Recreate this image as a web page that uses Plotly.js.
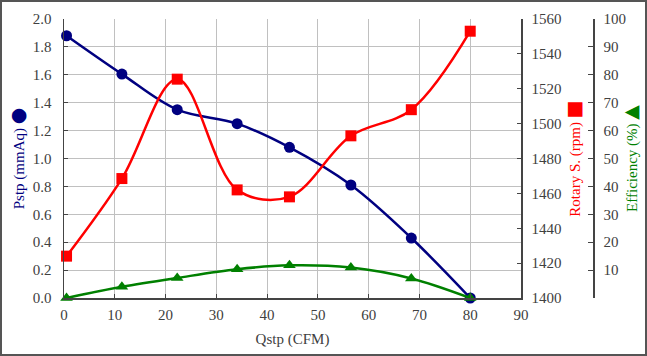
<!DOCTYPE html>
<html>
<head>
<meta charset="utf-8">
<script src="https://cdn.plot.ly/plotly-3.0.1.min.js"></script>
<style>
html,body{margin:0;padding:0;background:#fff;}
#wrap{position:relative;width:647px;height:356px;}
#chart{position:absolute;left:0;top:0;width:647px;height:356px;}
#frame{position:absolute;left:0;top:0;width:647px;height:356px;box-sizing:border-box;border:2px solid #555;pointer-events:none;}
</style>
</head>
<body>
<div id="wrap"><div id="chart"></div><div id="frame"></div></div>
<script>
// Data
const qstp = [0.5, 11.4, 22.3, 34.1, 44.4, 56.5, 68.4, 80.0];
const pstp = [1.88, 1.605, 1.35, 1.25, 1.08, 0.81, 0.43, 0.0];
const rotary = [1424, 1468.5, 1525.5, 1462, 1458, 1493, 1508, 1553];
const efficiency = [0, 4.0, 7.2, 10.3, 11.7, 10.9, 7.0, 0];

const effTickVals = [0, 10, 20, 30, 40, 50, 60, 70, 80, 90, 100];
const effTickText = ['', '10', '20', '30', '40', '50', '60', '70', '80', '90', '100'];

const FONT = 'Liberation Serif, Times New Roman, serif';
const SYM = 'font-family:DejaVu Sans;font-size:19px';
const TICKC = '#404040';
const AXC = '#444';

const traces = [
  {x: qstp, y: pstp, type: 'scatter', mode: 'lines+markers', name: 'Pstp',
   line: {color: '#000080', width: 2.5, shape: 'spline', smoothing: 1},
   marker: {symbol: 'circle', size: 11, color: '#000080'}, yaxis: 'y', cliponaxis: false},
  {x: qstp, y: rotary, type: 'scatter', mode: 'lines+markers', name: 'Rotary S.',
   line: {color: '#ff0000', width: 2.5, shape: 'spline', smoothing: 1},
   marker: {symbol: 'square', size: 11, color: '#ff0000'}, yaxis: 'y2', cliponaxis: false},
  {x: qstp, y: efficiency, type: 'scatter', mode: 'lines+markers', name: 'Efficiency',
   line: {color: '#008000', width: 2.5, shape: 'spline', smoothing: 1},
   marker: {symbol: 'triangle-up', size: 11, color: '#008000'}, yaxis: 'y3', cliponaxis: false}
];

const plotW = 647 - 64 - 40;
const layout = {
  width: 647, height: 356,
  margin: {l: 64, r: 40, t: 19, b: 58, pad: 0},
  paper_bgcolor: '#fff', plot_bgcolor: '#fff',
  showlegend: false,
  font: {family: FONT, size: 15, color: TICKC},
  xaxis: {
    domain: [0, 457 / plotW],
    range: [0, 90], dtick: 10, tick0: 0,
    showgrid: true, gridcolor: '#c0c0c0', gridwidth: 1,
    showline: true, linecolor: AXC, linewidth: 1.5,
    ticks: 'inside', ticklen: 4, tickcolor: AXC,
    zeroline: false, ticklabelstandoff: 2,
    tickfont: {family: FONT, size: 15, color: TICKC},
    title: {text: 'Qstp (CFM)', font: {family: FONT, size: 15, color: TICKC}, standoff: 12}
  },
  yaxis: {
    range: [0, 2.0], dtick: 0.2, tick0: 0, tickformat: '.1f',
    showgrid: true, gridcolor: '#c0c0c0', gridwidth: 1,
    showline: true, linecolor: AXC, linewidth: 1.5,
    ticks: 'inside', ticklen: 4, tickcolor: AXC,
    zeroline: false, ticklabelstandoff: 8,
    tickfont: {family: FONT, size: 15, color: TICKC},
    title: {text: 'Pstp (mmAq) <span style="' + SYM + '">●</span>', font: {family: FONT, size: 15, color: '#000080'}, standoff: 4}
  },
  yaxis2: {
    overlaying: 'y', side: 'right', anchor: 'x',
    range: [1400, 1560], dtick: 20, tick0: 1400,
    showgrid: false, zeroline: false,
    showline: true, linecolor: AXC, linewidth: 1.5,
    ticks: 'inside', ticklen: 4, tickcolor: AXC,
    ticklabelstandoff: 6,
    tickfont: {family: FONT, size: 15, color: TICKC},
    title: {text: 'Rotary S. (rpm) <span style="' + SYM + '">■</span>', font: {family: FONT, size: 15, color: '#ff0000'}, standoff: 4}
  },
  yaxis3: {
    overlaying: 'y', side: 'right', anchor: 'free',
    position: (593 - 64) / plotW,
    range: [0, 100],
    tickmode: 'array', tickvals: effTickVals, ticktext: effTickText,
    showgrid: false, zeroline: false,
    showline: true, linecolor: AXC, linewidth: 1.5,
    ticks: 'inside', ticklen: 5, tickcolor: AXC,
    ticklabelstandoff: 6,
    tickfont: {family: FONT, size: 15, color: TICKC},
    title: {text: 'Efficiency (%) <span style="' + SYM + '">▲</span>', font: {family: FONT, size: 15, color: '#008000'}, standoff: 1}
  }
};

Plotly.newPlot('chart', traces, layout, {displayModeBar: false, staticPlot: true});
</script>
</body>
</html>
